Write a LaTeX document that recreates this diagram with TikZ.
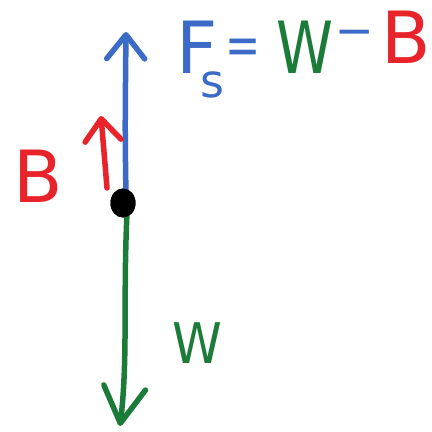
\documentclass[tikz,border=0pt]{standalone}
\usepackage{fontspec}
\setmainfont{DejaVu Sans}
\usetikzlibrary{arrows.meta,shapes.geometric}
\definecolor{penblue}{HTML}{3B6BC6}
\definecolor{penred}{HTML}{E8232A}
\definecolor{pengreen}{HTML}{1B7B38}
\tikzset{
  pen/.style={line width=5.5pt, line cap=round, line join=round},
  big/.style={inner sep=0pt, font=\fontsize{72}{72}\selectfont},
  mid/.style={inner sep=0pt, font=\fontsize{56}{56}\selectfont},
}
\begin{document}
\begin{tikzpicture}[x=1pt,y=-1pt]
\useasboundingbox (0,0) rectangle (432,432);
\fill[white] (0,0) rectangle (432,432);
% point
\node[ellipse, fill=black, minimum width=25pt, minimum height=29pt, inner sep=0pt] (dot) at (123,203) {};
\coordinate (bluetip) at (126,32);
\coordinate (greentip) at (120,426);
\coordinate (redbase) at (107,188);
\coordinate (redtip) at (101,116);
% arrows
\draw[pen, penblue, -{Straight Barb[length=24pt, width=38pt, line cap=round, line join=round]}] (dot.center) ++(3,-6) .. controls (125,130) .. (bluetip);
\draw[pen, pengreen, -{Straight Barb[length=36pt, width=42pt, line cap=round, line join=round]}] (dot.center) ++(4,10) .. controls (123,300) and (128,360) .. (greentip);
\draw[pen, penred, -{Straight Barb[length=22pt, width=36pt, line cap=round, line join=round]}] (redbase) -- (redtip);
\node[ellipse, fill=black, minimum width=25pt, minimum height=29pt, inner sep=0pt] at (dot.center) {};
% labels
\node[big, text=penred] (bl) at (38,176) {B};
\node[big, text=penblue, anchor=base west] (Fs) at (176,73) {F\kern-17pt\raisebox{-24pt}{\fontsize{46}{46}\selectfont s}};
\node[mid, text=penblue, xscale=0.75] (eq) at (243,52) {=};
\node[big, text=pengreen, xscale=0.8] (W) at (305,47) {W};
\node[mid, text=penblue, xscale=1.3] (minus) at (355,39) {–};
\node[big, text=penred] (br) at (406,37) {B};
\node[mid, text=pengreen, xscale=0.9] (w2) at (197,343) {W};
\end{tikzpicture}
\end{document}
